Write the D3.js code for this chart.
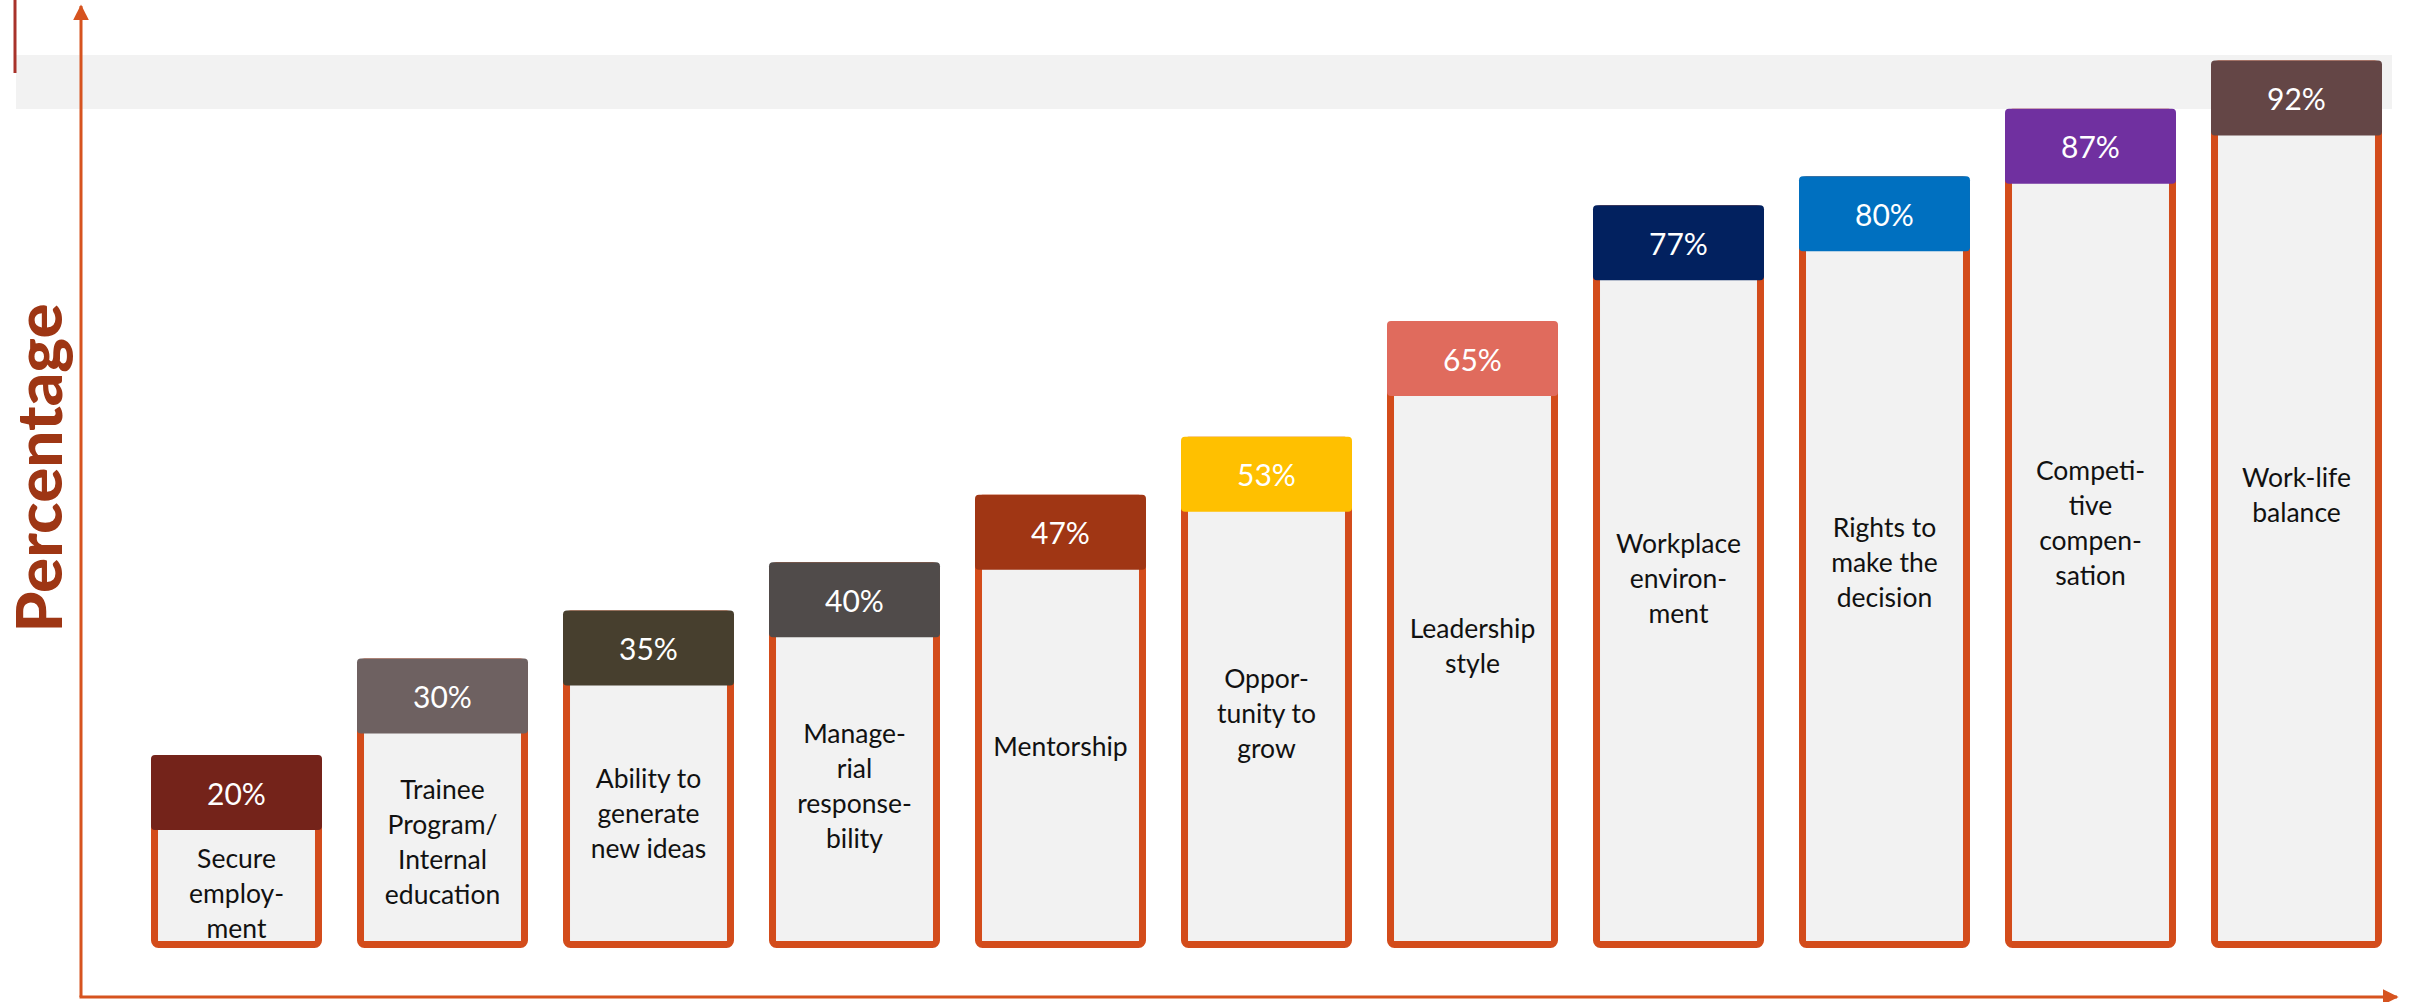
<!DOCTYPE html>
<html>
<head>
<meta charset="utf-8">
<script src="https://cdn.jsdelivr.net/npm/d3@7"></script>
<style>
  html, body { margin: 0; padding: 0; background: #ffffff; }
  svg { display: block; }
</style>
</head>
<body>
<svg id="chart" width="2415" height="1002"></svg>
<script>
// Factors and the share of respondents who rated each one important
const categories = [
  ["Secure", "employ-", "ment"],
  ["Trainee", "Program/", "Internal", "education"],
  ["Ability to", "generate", "new ideas"],
  ["Manage-", "rial", "response-", "bility"],
  ["Mentorship"],
  ["Oppor-", "tunity to", "grow"],
  ["Leadership", "style"],
  ["Workplace", "environ-", "ment"],
  ["Rights to", "make the", "decision"],
  ["Competi-", "tive", "compen-", "sation"],
  ["Work-life", "balance"]
];
const values = [20, 30, 35, 40, 47, 53, 65, 77, 80, 87, 92];
const headerColors = [
  "#74231a", "#6e6161", "#473f2e", "#504b4a", "#a03614", "#ffc000",
  "#e06b5d", "#02215f", "#0070c0", "#7030a0", "#644646"
];
const axisTitle = "Percentage";

const baseY = 948;          // bottom edge of the bars
const headerH = 75;         // height of the coloured value cap
const border = 7;           // outline width of the bar bodies
const orange = "#d34c1b";
const axisColor = "#d6531f";
const font = "Lato, 'Open Sans', sans-serif";

const svg = d3.select("#chart");

const x = d3.scaleBand()
  .domain(d3.range(values.length))
  .range([133.5, 2399.5])
  .paddingInner(0.17)
  .paddingOuter(0.085);

const y = d3.scaleLinear()
  .domain([0, 100])
  .range([baseY, -16.6]);

// light band across the top and the short accent line at the far left
svg.append("rect")
  .attr("x", 16).attr("y", 55)
  .attr("width", 2376).attr("height", 54)
  .attr("fill", "#f2f2f2");
svg.append("line")
  .attr("x1", 15).attr("x2", 15)
  .attr("y1", 0).attr("y2", 73)
  .attr("stroke", "#a8322a").attr("stroke-width", 3);

// arrow heads for the two axes
const defs = svg.append("defs");
defs.append("marker")
  .attr("id", "arrow")
  .attr("viewBox", "0 0 10 10")
  .attr("refX", 9).attr("refY", 5)
  .attr("markerUnits", "userSpaceOnUse")
  .attr("markerWidth", 16).attr("markerHeight", 16)
  .attr("orient", "auto")
  .append("path")
  .attr("d", "M0,0 L10,5 L0,10 Z")
  .attr("fill", axisColor);

const originX = 81, originY = 997;
svg.append("line")
  .attr("x1", originX).attr("y1", originY)
  .attr("x2", originX).attr("y2", 6)
  .attr("stroke", axisColor).attr("stroke-width", 3)
  .attr("marker-end", "url(#arrow)");
svg.append("line")
  .attr("x1", originX - 1.5).attr("y1", originY)
  .attr("x2", 2397).attr("y2", originY)
  .attr("stroke", axisColor).attr("stroke-width", 3)
  .attr("marker-end", "url(#arrow)");

// y-axis title
svg.append("text")
  .attr("transform", "translate(38,468) rotate(-90)")
  .attr("text-anchor", "middle")
  .attr("dominant-baseline", "central")
  .attr("font-family", font)
  .attr("font-weight", 900)
  .attr("font-size", 62)
  .attr("textLength", 329)
  .attr("lengthAdjust", "spacingAndGlyphs")
  .attr("fill", "#9e3614")
  .text(axisTitle);

const bars = svg.append("g")
  .selectAll("g")
  .data(values.map((v, i) => ({ v, i, lines: categories[i], color: headerColors[i] })))
  .join("g");

// bar bodies
bars.append("rect")
  .attr("x", d => x(d.i) + border / 2)
  .attr("y", d => y(d.v) + border / 2)
  .attr("width", x.bandwidth() - border)
  .attr("height", d => baseY - y(d.v) - border)
  .attr("rx", 4)
  .attr("fill", "#f2f2f2")
  .attr("stroke", orange)
  .attr("stroke-width", border);

// coloured value caps
bars.append("rect")
  .attr("x", d => x(d.i))
  .attr("y", d => y(d.v))
  .attr("width", x.bandwidth())
  .attr("height", headerH)
  .attr("rx", 4)
  .attr("fill", d => d.color);

bars.append("text")
  .attr("x", d => x(d.i) + x.bandwidth() / 2)
  .attr("y", d => y(d.v) + headerH / 2)
  .attr("text-anchor", "middle")
  .attr("dominant-baseline", "central")
  .attr("font-family", font)
  .attr("font-size", 30)
  .attr("fill", "#ffffff")
  .text(d => d.v + "%");

// category names inside each bar, sitting a little above the body centre on tall bars
const lineH = 35;
bars.append("text")
  .attr("text-anchor", "middle")
  .attr("font-family", font)
  .attr("font-size", 26.5)
  .attr("fill", "#111111")
  .each(function (d) {
    const top = y(d.v) + headerH;
    const body = baseY - top;
    const mid = top + 0.5 * body - 0.08 * Math.max(0, body - 170) + 4;
    const first = mid - (d.lines.length - 1) * lineH / 2;
    d3.select(this).selectAll("tspan")
      .data(d.lines)
      .join("tspan")
      .attr("x", x(d.i) + x.bandwidth() / 2)
      .attr("y", (t, k) => first + k * lineH)
      .attr("dominant-baseline", "central")
      .text(t => t);
  });
</script>
</body>
</html>
